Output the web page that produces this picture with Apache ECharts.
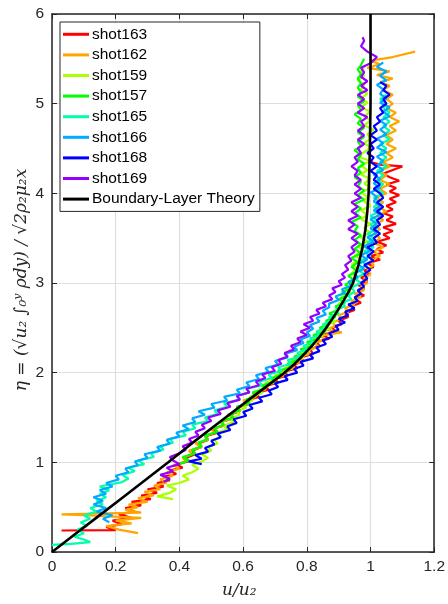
<!DOCTYPE html>
<html><head><meta charset="utf-8">
<script src="https://cdn.jsdelivr.net/npm/echarts@6/dist/echarts.min.js"></script>
<style>html,body{margin:0;padding:0;background:#fff}#c{width:448px;height:604px}</style>
</head><body><div id="c"></div>
<script>
const seriesNames = ['shot163','shot162','shot159','shot157','shot165','shot166','shot168','shot169','Boundary-Layer Theory'];
const seriesColors = ['#ff0000','#ffa500','#aaff00','#00ff00','#00ffaa','#00aaff','#0000ff','#9500ff','#000000'];

const shot163 = [[0.03,0.24],[0.20,0.245],[0.17,0.28],[0.22,0.31],[0.19,0.35],[0.25,0.38],[0.21,0.42],[0.26,0.45],[0.23,0.49],[0.28,0.52],[0.25,0.56],[0.31,0.59],[0.28,0.63],[0.33,0.66],[0.30,0.70],[0.35,0.73],[0.33,0.77],[0.37,0.80],[0.35,0.84],[0.39,0.87],[0.37,0.91],[0.41,0.94],[0.39,0.98],[0.43,1.01],[0.42,1.05],[0.45,1.09],[0.44,1.13],[0.47,1.17],[0.46,1.21],[0.49,1.25],[0.48,1.29],[0.52,1.33],[0.50,1.37],[0.54,1.41],[0.53,1.45],[0.57,1.49],[0.56,1.53],[0.59,1.57],[0.58,1.61],[0.62,1.65],[0.61,1.69],[0.65,1.73],[0.64,1.77],[0.68,1.81],[0.67,1.85],[0.71,1.89],[0.70,1.93],[0.74,1.97],[0.73,2.01],[0.77,2.05],[0.76,2.09],[0.79,2.13],[0.78,2.17],[0.82,2.21],[0.81,2.26],[0.84,2.30],[0.83,2.34],[0.87,2.38],[0.85,2.42],[0.89,2.46],[0.88,2.50],[0.91,2.54],[0.90,2.58],[0.93,2.62],[0.92,2.66],[0.95,2.70],[0.94,2.74],[0.97,2.78],[0.95,2.82],[0.98,2.86],[0.96,2.90],[0.98,2.94],[0.96,2.98],[0.99,3.02],[0.97,3.06],[1.00,3.10],[0.98,3.14],[1.01,3.18],[0.99,3.22],[1.03,3.26],[1.00,3.30],[1.04,3.34],[1.02,3.38],[1.05,3.42],[1.02,3.46],[1.06,3.50],[1.04,3.54],[1.07,3.58],[1.04,3.62],[1.08,3.66],[1.05,3.70],[1.07,3.74],[1.04,3.78],[1.07,3.82],[1.05,3.86],[1.08,3.90],[1.06,3.94],[1.09,3.98],[1.06,4.02],[1.08,4.06],[1.05,4.10],[1.09,4.14],[1.06,4.18],[1.04,4.22],[1.07,4.26],[1.10,4.30],[1.03,4.32],[1.00,4.35]];

const shot162 = [[0.27,0.21],[0.21,0.25],[0.17,0.29],[0.25,0.32],[0.20,0.35],[0.28,0.38],[0.10,0.41],[0.03,0.42],[0.28,0.44],[0.23,0.47],[0.27,0.50],[0.24,0.53],[0.30,0.56],[0.27,0.60],[0.32,0.63],[0.29,0.67],[0.34,0.70],[0.32,0.74],[0.36,0.77],[0.34,0.81],[0.38,0.85],[0.36,0.89],[0.40,0.93],[0.38,0.97],[0.42,1.01],[0.41,1.05],[0.44,1.09],[0.43,1.13],[0.47,1.17],[0.45,1.21],[0.49,1.25],[0.48,1.29],[0.51,1.33],[0.50,1.37],[0.54,1.41],[0.53,1.45],[0.57,1.49],[0.55,1.53],[0.59,1.57],[0.58,1.61],[0.62,1.65],[0.60,1.69],[0.64,1.73],[0.63,1.77],[0.67,1.81],[0.66,1.85],[0.70,1.89],[0.69,1.93],[0.73,1.97],[0.72,2.01],[0.76,2.05],[0.75,2.09],[0.79,2.13],[0.77,2.17],[0.81,2.21],[0.80,2.25],[0.84,2.29],[0.82,2.33],[0.86,2.37],[0.84,2.41],[0.91,2.45],[0.86,2.48],[0.89,2.52],[0.88,2.56],[0.91,2.60],[0.90,2.64],[0.93,2.68],[0.92,2.72],[0.95,2.76],[0.94,2.80],[0.97,2.84],[0.95,2.88],[0.98,2.92],[0.97,2.96],[0.99,3.00],[0.98,3.05],[1.00,3.10],[0.99,3.15],[1.01,3.20],[1.00,3.25],[1.03,3.30],[1.01,3.35],[1.04,3.40],[1.01,3.45],[1.03,3.50],[1.01,3.55],[1.03,3.60],[1.01,3.65],[1.04,3.70],[1.02,3.75],[1.05,3.80],[1.02,3.85],[1.04,3.90],[1.02,3.95],[1.05,4.00],[1.03,4.05],[1.06,4.10],[1.03,4.15],[1.05,4.20],[1.03,4.25],[1.06,4.30],[1.04,4.35],[1.07,4.40],[1.05,4.45],[1.08,4.50],[1.05,4.55],[1.07,4.60],[1.05,4.65],[1.08,4.70],[1.06,4.75],[1.09,4.80],[1.06,4.85],[1.08,4.90],[1.05,4.95],[1.07,5.00],[1.05,5.05],[1.07,5.10],[1.04,5.15],[1.06,5.20],[1.03,5.24],[1.07,5.28],[1.02,5.32],[1.06,5.36],[0.99,5.40],[1.03,5.44],[1.00,5.48],[1.07,5.52],[1.14,5.58]];

const shot159 = [[0.38,0.59],[0.33,0.62],[0.37,0.66],[0.39,0.70],[0.36,0.74],[0.40,0.77],[0.43,0.81],[0.41,0.85],[0.44,0.89],[0.46,0.93],[0.44,0.97],[0.47,1.01],[0.49,1.05],[0.47,1.09],[0.50,1.13],[0.49,1.17],[0.52,1.21],[0.51,1.25],[0.53,1.29],[0.52,1.33],[0.55,1.37],[0.54,1.41],[0.57,1.45],[0.56,1.49],[0.59,1.53],[0.58,1.57],[0.61,1.61],[0.60,1.65],[0.63,1.69],[0.62,1.73],[0.66,1.77],[0.65,1.81],[0.68,1.85],[0.67,1.89],[0.71,1.93],[0.70,1.97],[0.74,2.01],[0.73,2.05],[0.76,2.09],[0.75,2.13],[0.79,2.17],[0.78,2.21],[0.81,2.25],[0.80,2.29],[0.83,2.33],[0.82,2.37],[0.85,2.41],[0.84,2.45],[0.87,2.49],[0.86,2.53],[0.89,2.57],[0.87,2.61],[0.90,2.65],[0.89,2.69],[0.91,2.73],[0.90,2.77],[0.92,2.81],[0.91,2.85],[0.94,2.89],[0.92,2.93],[0.95,2.97],[0.93,3.01],[0.96,3.06],[0.94,3.11],[0.96,3.16],[0.94,3.21],[0.97,3.26],[0.95,3.31],[0.98,3.36],[0.96,3.41],[0.99,3.46],[0.97,3.51],[1.00,3.56],[0.98,3.61],[1.00,3.66],[0.97,3.71],[0.99,3.76],[0.97,3.81],[1.00,3.86],[0.98,3.91],[0.99,3.96],[0.97,4.01],[1.00,4.06],[0.98,4.11],[1.00,4.16],[0.97,4.21],[0.99,4.26],[0.97,4.31],[1.00,4.36],[0.96,4.41],[0.98,4.46],[1.00,4.51],[0.98,4.56],[1.00,4.61],[0.99,4.66],[1.01,4.71],[0.98,4.76],[1.00,4.81],[0.98,4.86],[1.00,4.91],[0.97,4.96],[0.99,5.01],[0.97,5.06],[0.99,5.11],[0.97,5.16],[0.98,5.21],[0.96,5.26],[0.98,5.31],[0.97,5.36],[0.98,5.42]];

const shot157 = [[0.40,0.98],[0.43,1.02],[0.41,1.06],[0.45,1.10],[0.44,1.14],[0.47,1.18],[0.46,1.22],[0.49,1.26],[0.48,1.30],[0.52,1.34],[0.51,1.38],[0.54,1.42],[0.53,1.46],[0.57,1.50],[0.56,1.54],[0.59,1.58],[0.58,1.62],[0.62,1.66],[0.61,1.70],[0.64,1.74],[0.63,1.78],[0.67,1.82],[0.66,1.86],[0.70,1.90],[0.69,1.94],[0.72,1.98],[0.71,2.02],[0.75,2.06],[0.74,2.10],[0.77,2.14],[0.76,2.18],[0.80,2.22],[0.78,2.26],[0.82,2.30],[0.80,2.34],[0.84,2.38],[0.82,2.42],[0.86,2.46],[0.84,2.50],[0.87,2.54],[0.86,2.58],[0.89,2.62],[0.87,2.66],[0.90,2.70],[0.89,2.74],[0.92,2.78],[0.90,2.82],[0.93,2.86],[0.91,2.90],[0.94,2.94],[0.92,2.98],[0.95,3.03],[0.93,3.08],[0.96,3.13],[0.94,3.18],[0.96,3.23],[0.94,3.28],[0.97,3.33],[0.95,3.38],[0.97,3.43],[0.95,3.48],[0.97,3.53],[0.95,3.58],[0.96,3.63],[0.94,3.68],[0.97,3.73],[0.95,3.78],[0.97,3.83],[0.95,3.88],[0.98,3.93],[0.96,3.98],[0.98,4.03],[0.96,4.08],[0.97,4.13],[0.95,4.18],[0.97,4.23],[0.96,4.28],[0.98,4.33],[0.96,4.38],[0.97,4.43],[0.95,4.48],[0.97,4.53],[0.96,4.58],[0.98,4.63],[0.96,4.68],[0.98,4.73],[0.96,4.78],[0.97,4.83],[0.95,4.88],[0.97,4.93],[0.96,4.98],[0.98,5.03],[0.96,5.08],[0.97,5.13],[0.96,5.18],[0.97,5.23],[0.96,5.28],[0.97,5.33],[0.96,5.38],[0.97,5.43],[0.98,5.50]];

const shot165 = [[0.00,0.08],[0.06,0.09],[0.12,0.11],[0.10,0.14],[0.07,0.17],[0.10,0.21],[0.08,0.25],[0.11,0.29],[0.09,0.33],[0.12,0.37],[0.10,0.41],[0.14,0.45],[0.12,0.49],[0.16,0.53],[0.14,0.57],[0.17,0.61],[0.15,0.65],[0.18,0.69],[0.15,0.73],[0.22,0.78],[0.24,0.82],[0.22,0.86],[0.26,0.90],[0.24,0.94],[0.29,0.98],[0.27,1.02],[0.32,1.06],[0.31,1.10],[0.35,1.14],[0.34,1.18],[0.38,1.22],[0.37,1.26],[0.42,1.30],[0.41,1.34],[0.45,1.38],[0.44,1.42],[0.49,1.46],[0.48,1.50],[0.52,1.54],[0.51,1.58],[0.55,1.62],[0.54,1.66],[0.59,1.70],[0.58,1.74],[0.62,1.78],[0.61,1.82],[0.66,1.86],[0.65,1.90],[0.69,1.94],[0.68,1.98],[0.72,2.02],[0.71,2.06],[0.75,2.10],[0.74,2.14],[0.78,2.18],[0.77,2.22],[0.80,2.26],[0.79,2.30],[0.82,2.34],[0.81,2.38],[0.84,2.42],[0.83,2.46],[0.86,2.50],[0.85,2.54],[0.88,2.58],[0.87,2.62],[0.90,2.66],[0.89,2.70],[0.92,2.74],[0.91,2.78],[0.94,2.82],[0.93,2.86],[0.95,2.90],[0.94,2.95],[0.97,3.00],[0.95,3.05],[0.98,3.10],[0.96,3.15],[0.99,3.20],[0.97,3.25],[1.00,3.30],[0.98,3.35],[1.01,3.40],[0.99,3.45],[1.01,3.50],[0.99,3.55],[1.02,3.60],[1.00,3.65],[1.02,3.70],[1.00,3.75],[1.03,3.80],[1.01,3.85],[1.03,3.90],[1.01,3.95],[1.04,4.00],[1.02,4.05],[1.04,4.10],[1.02,4.15],[1.04,4.20],[1.02,4.25],[1.05,4.30],[1.03,4.35],[1.05,4.40],[1.03,4.45],[1.05,4.50],[1.03,4.55],[1.06,4.60],[1.04,4.65],[1.06,4.70],[1.04,4.75],[1.06,4.80],[1.04,4.85],[1.06,4.90],[1.04,4.95],[1.05,5.00],[1.03,5.05],[1.05,5.10]];

const shot166 = [[0.18,0.33],[0.16,0.37],[0.19,0.41],[0.14,0.45],[0.17,0.49],[0.13,0.53],[0.16,0.57],[0.13,0.61],[0.17,0.65],[0.15,0.69],[0.19,0.73],[0.17,0.77],[0.21,0.81],[0.20,0.85],[0.24,0.89],[0.23,0.93],[0.27,0.97],[0.26,1.01],[0.30,1.05],[0.29,1.09],[0.34,1.13],[0.33,1.17],[0.37,1.21],[0.36,1.25],[0.40,1.29],[0.39,1.33],[0.43,1.37],[0.41,1.41],[0.45,1.45],[0.44,1.49],[0.48,1.53],[0.46,1.57],[0.51,1.61],[0.50,1.65],[0.55,1.69],[0.54,1.73],[0.59,1.77],[0.58,1.81],[0.62,1.85],[0.61,1.89],[0.65,1.93],[0.64,1.97],[0.68,2.01],[0.67,2.05],[0.71,2.09],[0.70,2.13],[0.74,2.17],[0.73,2.21],[0.77,2.25],[0.76,2.29],[0.79,2.33],[0.78,2.37],[0.81,2.41],[0.80,2.45],[0.82,2.49],[0.81,2.53],[0.84,2.57],[0.83,2.61],[0.86,2.65],[0.85,2.69],[0.87,2.73],[0.87,2.77],[0.90,2.81],[0.89,2.85],[0.92,2.89],[0.91,2.93],[0.94,2.97],[0.93,3.01],[0.96,3.06],[0.95,3.11],[0.98,3.16],[0.96,3.21],[0.99,3.26],[0.97,3.31],[1.00,3.36],[0.98,3.41],[1.01,3.46],[0.99,3.51],[1.02,3.56],[1.00,3.61],[1.02,3.66],[1.00,3.71],[1.03,3.76],[1.01,3.81],[1.03,3.86],[1.01,3.91],[1.02,3.96],[1.00,4.01],[1.03,4.06],[1.01,4.11],[1.03,4.16],[1.01,4.21],[1.04,4.26],[1.02,4.31],[1.04,4.36],[1.02,4.41],[1.05,4.46],[1.02,4.51],[1.04,4.56],[1.02,4.61],[1.05,4.66],[1.03,4.71],[1.05,4.76],[1.03,4.81],[1.06,4.86],[1.04,4.91],[1.06,4.96],[1.03,5.01],[1.05,5.06],[1.03,5.11],[1.04,5.16],[1.02,5.21],[1.05,5.26],[1.03,5.31],[1.05,5.36],[1.02,5.41],[1.04,5.46]];

const shot168 = [[0.47,0.98],[0.43,1.01],[0.47,1.04],[0.45,1.08],[0.49,1.12],[0.48,1.16],[0.51,1.20],[0.50,1.24],[0.53,1.28],[0.52,1.32],[0.56,1.36],[0.55,1.40],[0.58,1.44],[0.57,1.48],[0.61,1.52],[0.60,1.56],[0.63,1.60],[0.62,1.64],[0.66,1.68],[0.65,1.72],[0.69,1.76],[0.68,1.80],[0.71,1.84],[0.70,1.88],[0.74,1.92],[0.73,1.96],[0.77,2.00],[0.76,2.04],[0.79,2.08],[0.78,2.12],[0.82,2.16],[0.81,2.20],[0.84,2.24],[0.83,2.28],[0.86,2.32],[0.85,2.36],[0.88,2.40],[0.87,2.44],[0.90,2.48],[0.89,2.52],[0.92,2.56],[0.90,2.60],[0.93,2.64],[0.92,2.68],[0.95,2.72],[0.93,2.76],[0.96,2.80],[0.95,2.84],[0.97,2.88],[0.96,2.92],[0.98,2.96],[0.97,3.00],[0.99,3.05],[0.98,3.10],[1.00,3.15],[0.98,3.20],[1.01,3.25],[0.99,3.30],[1.01,3.35],[0.99,3.40],[1.02,3.45],[1.01,3.50],[1.03,3.55],[1.01,3.60],[1.03,3.65],[1.02,3.70],[1.04,3.75],[1.02,3.80],[1.04,3.85],[1.02,3.90],[1.04,3.95],[1.03,4.00],[1.01,4.05],[1.03,4.10],[1.01,4.15],[1.02,4.20],[1.00,4.25],[1.02,4.30],[1.00,4.35],[1.01,4.40],[0.99,4.45],[1.01,4.50],[1.00,4.55],[1.02,4.60],[1.00,4.65],[1.02,4.70],[1.01,4.75],[1.03,4.80],[1.02,4.85],[1.04,4.90],[1.03,4.95],[1.05,5.00],[1.04,5.05],[1.06,5.10],[1.04,5.15],[1.05,5.20],[1.03,5.24]];

const shot169 = [[0.35,0.78],[0.37,0.82],[0.34,0.86],[0.38,0.90],[0.36,0.94],[0.40,0.98],[0.38,1.02],[0.37,1.06],[0.40,1.10],[0.42,1.14],[0.41,1.18],[0.44,1.22],[0.43,1.26],[0.46,1.30],[0.45,1.34],[0.48,1.38],[0.47,1.42],[0.50,1.46],[0.49,1.50],[0.53,1.54],[0.52,1.58],[0.56,1.62],[0.55,1.66],[0.59,1.70],[0.58,1.74],[0.62,1.78],[0.61,1.82],[0.65,1.86],[0.64,1.90],[0.67,1.94],[0.66,1.98],[0.70,2.02],[0.69,2.06],[0.72,2.10],[0.71,2.14],[0.74,2.18],[0.73,2.22],[0.76,2.26],[0.75,2.30],[0.78,2.34],[0.77,2.38],[0.80,2.42],[0.78,2.46],[0.81,2.50],[0.79,2.54],[0.82,2.58],[0.81,2.62],[0.84,2.66],[0.83,2.70],[0.86,2.74],[0.85,2.78],[0.88,2.82],[0.87,2.86],[0.89,2.90],[0.88,2.94],[0.91,2.98],[0.90,3.02],[0.92,3.06],[0.91,3.10],[0.93,3.15],[0.92,3.20],[0.94,3.25],[0.93,3.30],[0.95,3.35],[0.94,3.40],[0.96,3.45],[0.94,3.50],[0.96,3.55],[0.93,3.60],[0.95,3.65],[0.93,3.70],[0.96,3.75],[0.94,3.80],[0.96,3.85],[0.94,3.90],[0.97,3.95],[0.95,4.00],[0.97,4.05],[0.95,4.10],[0.97,4.15],[0.95,4.20],[0.96,4.25],[0.94,4.30],[0.96,4.35],[0.95,4.40],[0.97,4.45],[0.96,4.50],[0.98,4.55],[0.96,4.60],[0.98,4.65],[0.96,4.70],[0.98,4.75],[0.97,4.80],[0.99,4.85],[0.96,4.90],[0.98,4.95],[0.96,5.00],[0.98,5.05],[0.96,5.10],[0.99,5.15],[0.97,5.20],[0.99,5.25],[0.97,5.30],[0.98,5.35],[0.97,5.40],[1.00,5.45],[1.02,5.52],[0.99,5.58],[0.97,5.64],[0.98,5.70],[0.975,5.74]];

const theoryEta = [0,0.2,0.4,0.6,0.8,1.0,1.2,1.4,1.6,1.8,2.0,2.1,2.2,2.3,2.4,2.5,2.6,2.7,2.8,2.9,3.0,3.2,3.4,3.6,3.8,4.0,4.5,5.0,5.5,6.0];
const theoryU   = [0,0.073,0.146,0.219,0.292,0.365,0.435,0.508,0.582,0.656,0.73,0.762,0.79,0.816,0.84,0.861,0.88,0.898,0.915,0.931,0.945,0.962,0.975,0.984,0.99,0.994,0.998,1.0,1.0,1.0];

const xTickLabels = ['0','0.2','0.4','0.6','0.8','1','1.2'];
const yTickLabels = ['0','1','2','3','4','5','6'];

const dataSets = [shot163,shot162,shot159,shot157,shot165,shot166,shot168,shot169,theoryU.map((u,i)=>[u,theoryEta[i]])];

const FONT = 'Liberation Sans, Arial, Helvetica, sans-serif';
const AX = '#262626';
const chart = echarts.init(document.getElementById('c'), null, {renderer:'canvas'});
const baseX = {type:'value', min:0, max:1.2, interval:0.2};
const baseY = {type:'value', min:0, max:6, interval:1};
chart.setOption({
  animation:false,
  backgroundColor:'#fff',
  grid:{left:52, right:13, top:14, bottom:52, containLabel:false},
  xAxis:[
    Object.assign({}, baseX, {position:'bottom',
      axisLine:{show:true,onZero:false,lineStyle:{color:AX,width:1.5}},
      axisTick:{show:true,inside:true,length:5,lineStyle:{color:AX,width:1}},
      axisLabel:{show:true,margin:7,color:AX,fontSize:15.5,fontFamily:FONT,formatter:(v)=>xTickLabels[Math.round(v/0.2)]},
      splitLine:{show:true,lineStyle:{color:'#dedede',width:1.2}}}),
    Object.assign({}, baseX, {position:'top',
      axisLine:{show:true,onZero:false,lineStyle:{color:AX,width:1.5}},
      axisTick:{show:true,inside:true,length:5,lineStyle:{color:AX,width:1}},
      axisLabel:{show:false}, splitLine:{show:false}})
  ],
  yAxis:[
    Object.assign({}, baseY, {position:'left',
      axisLine:{show:true,onZero:false,lineStyle:{color:AX,width:1.5}},
      axisTick:{show:true,inside:true,length:5,lineStyle:{color:AX,width:1}},
      axisLabel:{show:true,margin:8,color:AX,fontSize:15.5,fontFamily:FONT,formatter:(v)=>yTickLabels[Math.round(v)]},
      splitLine:{show:true,lineStyle:{color:'#dedede',width:1.2}}}),
    Object.assign({}, baseY, {position:'right',
      axisLine:{show:true,onZero:false,lineStyle:{color:AX,width:1.5}},
      axisTick:{show:true,inside:true,length:5,lineStyle:{color:AX,width:1}},
      axisLabel:{show:false}, splitLine:{show:false}})
  ],
  legend:{
    show:true, orient:'vertical', left:60, top:22,
    data:seriesNames,
    icon:'rect', itemWidth:26, itemHeight:3, itemGap:0,
    padding:[2,5,2,3],
    backgroundColor:'#fff', borderColor:AX, borderWidth:1,
    textStyle:{fontSize:15.5, fontFamily:FONT, color:'#000', lineHeight:20.6, padding:[0,0,0,-2]}
  },
  series: seriesNames.map((n,i)=>({
    name:n, type:'line', xAxisIndex:0, yAxisIndex:0,
    data:dataSets[i], symbol:'none', showSymbol:false, smooth:false,
    color:seriesColors[i],
    lineStyle:{color:seriesColors[i], width: i===8 ? 2.6 : 2.2},
    z: 2 + i
  })),
  graphic:[
    {type:'text', left:222, top:582, style:{text:'u/u\u2082', font:'italic 17px "DejaVu Serif", serif', fill:AX}},
    {type:'text', x:22, y:280, rotation:Math.PI/2,
      style:{text:'\u03b7 = (\u221au\u2082 \u222b\u2080\u02b8 \u03c1dy) / \u221a2\u03c1\u2082\u03bc\u2082x', font:'italic 17px "DejaVu Serif", serif', fill:AX, align:'center', verticalAlign:'middle'}}
  ]
});
</script></body></html>
